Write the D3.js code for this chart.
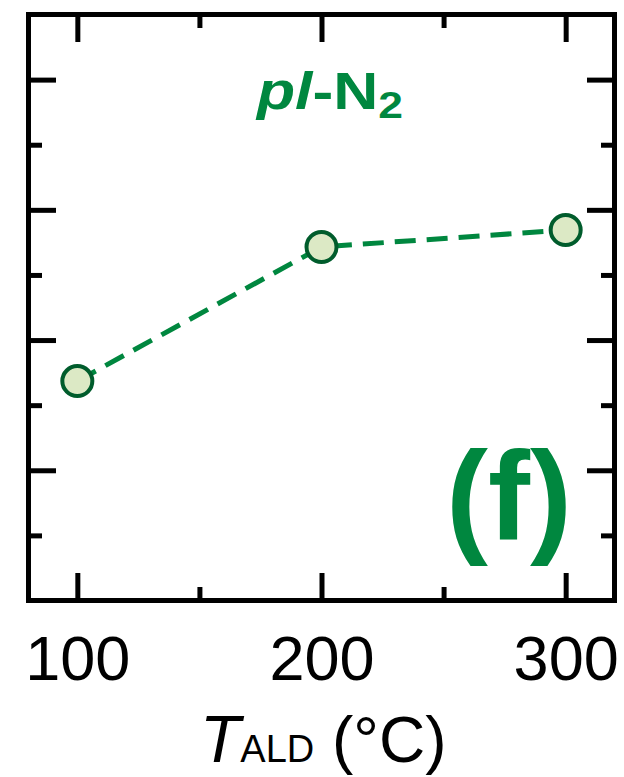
<!DOCTYPE html>
<html>
<head>
<meta charset="utf-8">
<script src="https://cdn.jsdelivr.net/npm/d3@7"></script>
<style>
  html, body { margin: 0; padding: 0; background: #ffffff; }
  svg { display: block; font-family: "Liberation Sans", Arial, Helvetica, sans-serif; }
</style>
</head>
<body>
<svg id="chart" width="624" height="777"></svg>
<script>
// ALD deposition temperature (°C) and the measured quantity (arbitrary units, axis unlabeled)
const temperatures = [100, 200, 300];
const values = [3.37, 5.43, 5.69];

// Tick positions
const xMajorTicks = [100, 200, 300];
const xMinorTicks = [150, 250];
const xTickLabels = ["100", "200", "300"];
const yMajorTicks = [2, 4, 6, 8];
const yMinorTicks = [1, 3, 5, 7];

(function () {
  const svg = d3.select("#chart");

  const plotLeft = 28.5, plotRight = 614.5, plotTop = 14.5, plotBottom = 600.5;
  const x = d3.scaleLinear().domain([80, 320]).range([plotLeft, plotRight]);
  const y = d3.scaleLinear().domain([0, 9]).range([plotBottom, plotTop]);

  const green = "#00873f";
  const darkGreen = "#005c2c";
  const fillGreen = "#dce9c5";

  const majorLen = 27.5, minorLen = 13.5, tickWidth = 5;

  function styleTicks(g) {
    g.select(".domain").remove();
    g.selectAll(".tick line").attr("stroke", "#000").attr("stroke-width", tickWidth);
    g.selectAll(".tick text").remove();
  }

  // Inward ticks on all four sides
  svg.append("g").attr("transform", `translate(0,${plotBottom})`)
    .call(d3.axisBottom(x).tickValues(xMajorTicks).tickSize(-majorLen)).call(styleTicks);
  svg.append("g").attr("transform", `translate(0,${plotBottom})`)
    .call(d3.axisBottom(x).tickValues(xMinorTicks).tickSize(-minorLen)).call(styleTicks);
  svg.append("g").attr("transform", `translate(0,${plotTop})`)
    .call(d3.axisTop(x).tickValues(xMajorTicks).tickSize(-majorLen)).call(styleTicks);
  svg.append("g").attr("transform", `translate(0,${plotTop})`)
    .call(d3.axisTop(x).tickValues(xMinorTicks).tickSize(-minorLen)).call(styleTicks);
  svg.append("g").attr("transform", `translate(${plotLeft},0)`)
    .call(d3.axisLeft(y).tickValues(yMajorTicks).tickSize(-majorLen)).call(styleTicks);
  svg.append("g").attr("transform", `translate(${plotLeft},0)`)
    .call(d3.axisLeft(y).tickValues(yMinorTicks).tickSize(-minorLen)).call(styleTicks);
  svg.append("g").attr("transform", `translate(${plotRight},0)`)
    .call(d3.axisRight(y).tickValues(yMajorTicks).tickSize(-majorLen)).call(styleTicks);
  svg.append("g").attr("transform", `translate(${plotRight},0)`)
    .call(d3.axisRight(y).tickValues(yMinorTicks).tickSize(-minorLen)).call(styleTicks);

  // Frame
  svg.append("rect")
    .attr("x", plotLeft).attr("y", plotTop)
    .attr("width", plotRight - plotLeft).attr("height", plotBottom - plotTop)
    .attr("fill", "none").attr("stroke", "#000").attr("stroke-width", 5);

  // X tick labels
  const xLabels = svg.append("g").attr("transform", `translate(0,${plotBottom})`)
    .call(d3.axisBottom(x).tickValues(xMajorTicks).tickSize(0).tickPadding(35)
      .tickFormat((d, i) => xTickLabels[i]));
  xLabels.select(".domain").remove();
  xLabels.selectAll("text")
    .attr("font-family", "'Liberation Sans', Arial, sans-serif")
    .attr("font-size", 63).attr("fill", "#000");

  // Axis title: T_ALD (°C)
  const xt = svg.append("text").attr("x", 200).attr("y", 762)
    .attr("fill", "#000");
  xt.append("tspan").attr("font-style", "italic").attr("font-size", 66).text("T");
  xt.append("tspan").attr("font-size", 38).text("ALD");
  xt.append("tspan").attr("font-size", 64).text(" (°C)");

  // Dashed connecting line
  const line = d3.line().x((d, i) => x(temperatures[i])).y(d => y(d));
  svg.append("path")
    .datum(values)
    .attr("d", line)
    .attr("fill", "none")
    .attr("stroke", green)
    .attr("stroke-width", 5)
    .attr("stroke-dasharray", "21 11");

  // Markers
  svg.append("g").selectAll("circle")
    .data(values)
    .join("circle")
    .attr("cx", (d, i) => x(temperatures[i]))
    .attr("cy", d => y(d))
    .attr("r", 15)
    .attr("fill", fillGreen)
    .attr("stroke", darkGreen)
    .attr("stroke-width", 4);

  // Sample label: pl-N2 (set slightly wide)
  const lbl = svg.append("text")
    .attr("transform", "translate(257,109) scale(1.2,1)")
    .attr("fill", green).attr("font-weight", "bold");
  lbl.append("tspan").attr("font-style", "italic").attr("font-size", 52).text("pl");
  lbl.append("tspan").attr("font-size", 52).text("-N");
  lbl.append("tspan").attr("font-size", 37).attr("dy", 9).text("2");

  // Panel letter
  svg.append("text").attr("x", 446).attr("y", 540)
    .attr("fill", green).attr("font-weight", "bold").attr("font-size", 126)
    .text("(f)");
})();
</script>
</body>
</html>
